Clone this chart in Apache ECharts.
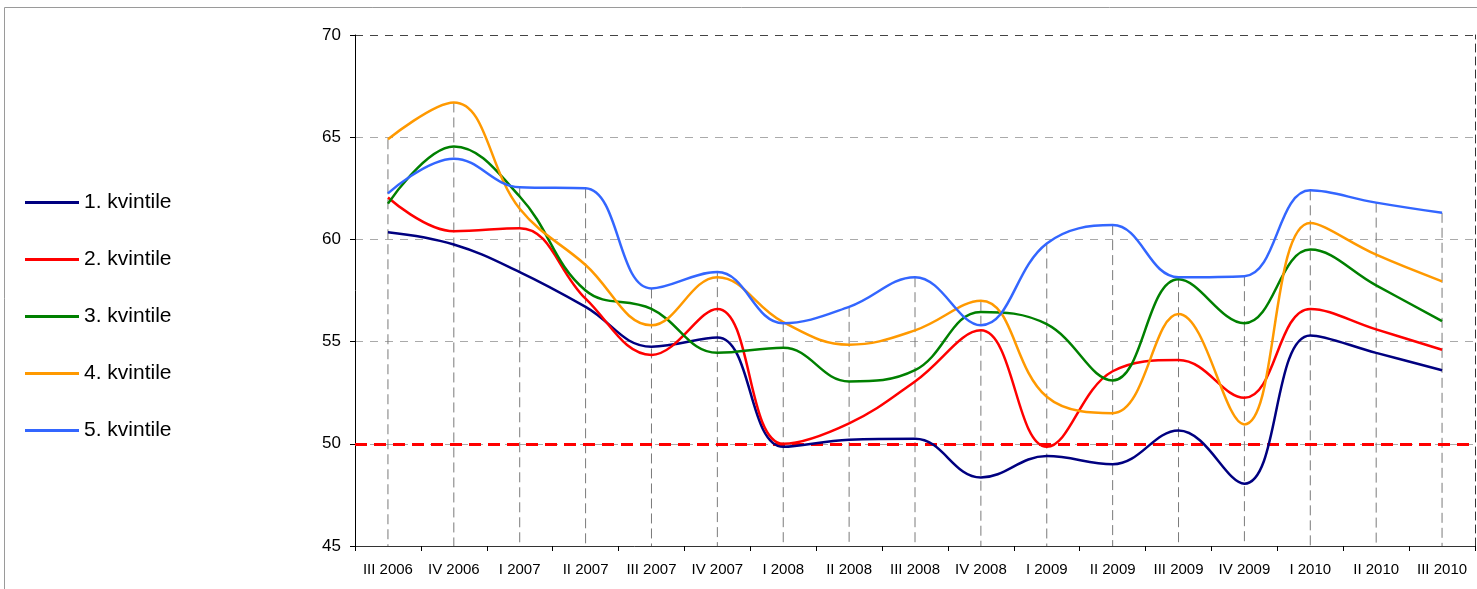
<!DOCTYPE html>
<html>
<head>
<meta charset="utf-8">
<script src="https://cdn.jsdelivr.net/npm/echarts@6/dist/echarts.min.js"></script>
<style>
  html, body { margin: 0; padding: 0; background: #fff; }
  #chart { width: 1477px; height: 589px; }
</style>
</head>
<body>
<div id="chart"></div>
<script>
const categories = ['III 2006', 'IV 2006', 'I 2007', 'II 2007', 'III 2007', 'IV 2007', 'I 2008', 'II 2008', 'III 2008',
  'IV 2008', 'I 2009', 'II 2009', 'III 2009', 'IV 2009', 'I 2010', 'II 2010', 'III 2010']

const names = ['1. kvintile', '2. kvintile', '3. kvintile', '4. kvintile', '5. kvintile']

const q1 = [60.35, 59.75, 58.4, 56.7, 54.75, 55.2, 49.85, 50.2, 50.25, 48.35, 49.4, 49.0, 50.65, 48.05, 55.3, 54.45, 53.6]
const q2 = [62.05, 60.4, 60.55, 57.1, 54.35, 56.6, 50.0, 51.0, 53.05, 55.55, 49.85, 53.55, 54.1, 52.25, 56.6, 55.6, 54.6]
const q3 = [61.75, 64.55, 62.1, 57.5, 56.6, 54.45, 54.7, 53.05, 53.6, 56.45, 55.85, 53.1, 58.05, 55.9, 59.5, 57.75, 56.0]
const q4 = [64.9, 66.7, 61.5, 58.75, 55.8, 58.15, 55.95, 54.85, 55.55, 57.0, 52.3, 51.5, 56.35, 50.95, 60.8, 59.25, 57.95]
const q5 = [62.25, 63.95, 62.55, 62.5, 57.6, 58.4, 55.9, 56.7, 58.15, 55.8, 59.8, 60.7, 58.15, 58.2, 62.4, 61.8, 61.3]

const refLevel = 50
const yMin = 45
const yMax = 70

const colors = ['#000080', '#FF0000', '#008000', '#FF9900', '#3366FF']
const seriesData = [q1, q2, q3, q4, q5]

// drop lines go from the highest point of each quarter down to the axis
const dropTops = categories.map((_, i) => Math.max(...seriesData.map(s => s[i])))

const FONT = '"Liberation Sans", Arial, sans-serif'

const lineBase = {
  type: 'line',
  smooth: 0.4,
  symbol: 'none',
  z: 3,
}

const chart = echarts.init(document.getElementById('chart'))

chart.setOption({
  animation: false,
  backgroundColor: '#fff',
  color: colors,
  textStyle: { fontFamily: FONT },
  graphic: [
    {
      type: 'rect',
      shape: { x: 4.5, y: 7.5, width: 1600, height: 700 },
      style: { fill: 'none', stroke: '#9a9a9a', lineWidth: 1 },
      silent: true,
      z: -1,
    },
  ],
  legend: {
    data: names,
    orient: 'vertical',
    left: 20,
    top: 187,
    icon: 'rect',
    itemWidth: 54,
    itemHeight: 3,
    itemGap: 36,
    textStyle: { fontSize: 21, color: '#000', fontFamily: FONT },
  },
  grid: {
    left: 355,
    right: 2,
    top: 35,
    bottom: 43,
  },
  xAxis: {
    type: 'category',
    data: categories,
    boundaryGap: true,
    axisLine: { lineStyle: { color: '#333', width: 1 } },
    axisTick: { show: true, length: 5, lineStyle: { color: '#000' } },
    axisLabel: { color: '#000', fontSize: 15, margin: 16, interval: 0, fontFamily: FONT },
    splitLine: { show: false },
  },
  yAxis: [
    {
      type: 'value',
      min: yMin,
      max: yMax,
      interval: 5,
      axisLine: { show: true, lineStyle: { color: '#000', width: 1 } },
      axisTick: { show: true, length: 5, lineStyle: { color: '#000' } },
      axisLabel: { color: '#000', fontSize: 17, margin: 14, fontFamily: FONT },
      splitLine: {
        show: true,
        lineStyle: {
          color: ['#444', '#aaa', '#aaa', '#aaa', '#aaa', '#444'],
          type: [8, 7],
          width: 1,
        },
      },
    },
    {
      type: 'value',
      position: 'right',
      min: yMin,
      max: yMax,
      interval: 5,
      axisLine: { show: true, lineStyle: { color: '#333', type: [8, 5], width: 1 } },
      axisTick: { show: false },
      axisLabel: { show: false },
      splitLine: { show: false },
    },
  ],
  series: [
    {
      type: 'custom',
      name: 'drop',
      silent: true,
      z: 1,
      itemStyle: { color: '#7a7a7a' },
      data: dropTops.map((v, i) => [i, v]),
      renderItem(params, api) {
        const top = api.coord([api.value(0), api.value(1)])
        const bottom = api.coord([api.value(0), yMin])
        return {
          type: 'line',
          shape: { x1: top[0], y1: top[1], x2: bottom[0], y2: bottom[1] },
          style: { stroke: '#7a7a7a', lineWidth: 1, lineDash: [10, 5] },
        }
      },
      markLine: {
        silent: true,
        symbol: 'none',
        label: { show: false },
        lineStyle: { color: '#FF0000', type: [12, 7], width: 3 },
        data: [{ yAxis: refLevel }],
        z: 2,
      },
    },
    ...names.map((name, i) => ({
      ...lineBase,
      name,
      data: seriesData[i],
      itemStyle: { color: colors[i] },
      lineStyle: { width: 2.5, color: colors[i] },
    })),
  ],
})
</script>
</body>
</html>
